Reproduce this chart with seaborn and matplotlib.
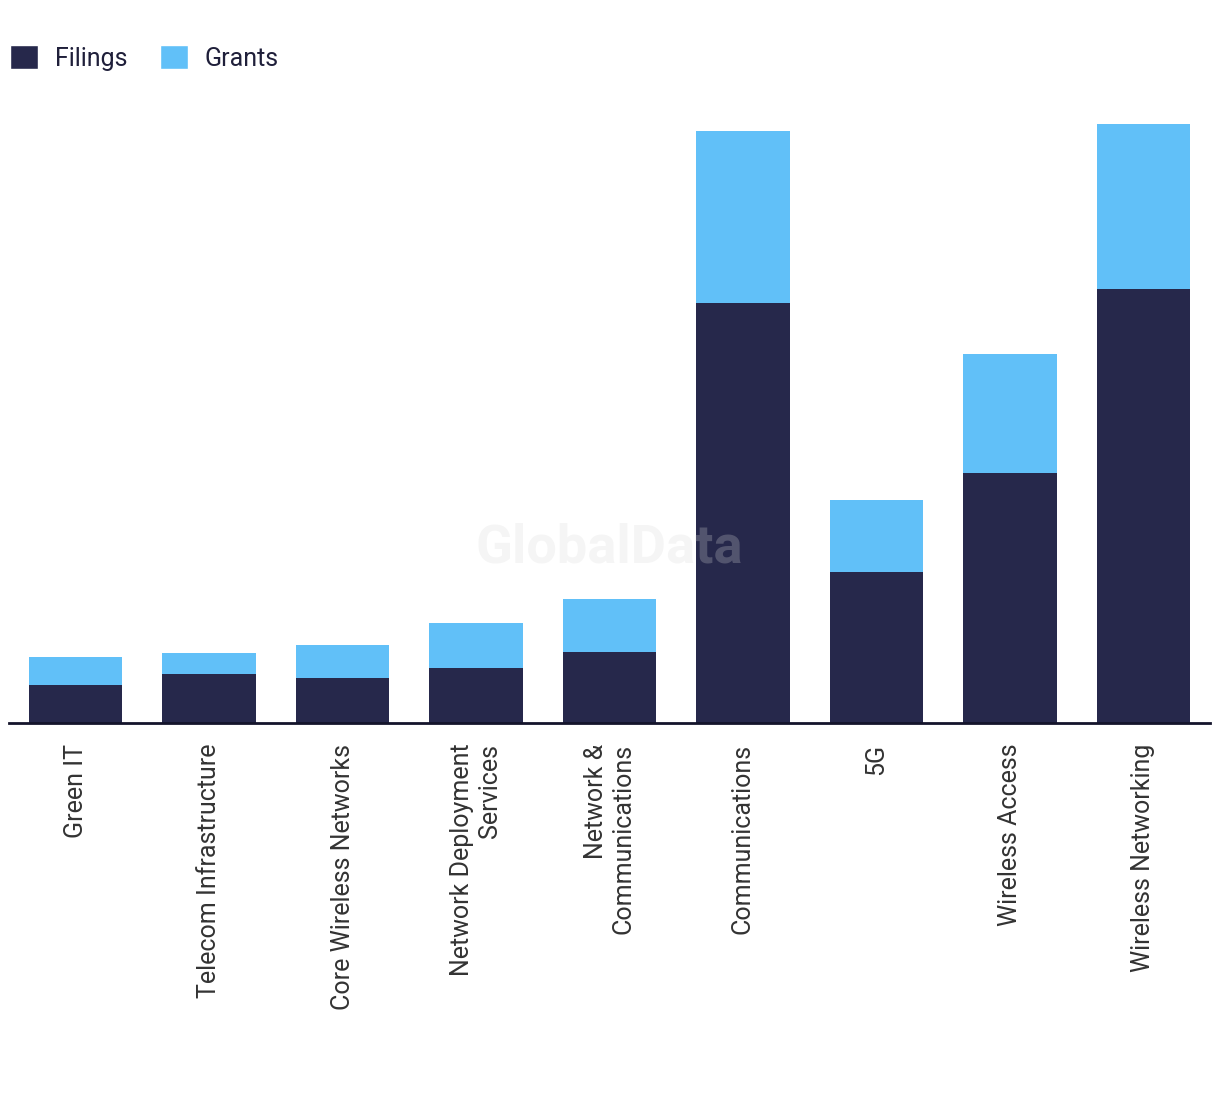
import pandas as pd
import matplotlib
matplotlib.use('Agg')
import matplotlib.pyplot as plt
import seaborn as sns
from matplotlib.patches import Patch

# data (arbitrary units)
categories = ['Green IT', 'Telecom Infrastructure', 'Core Wireless Networks',
              'Network Deployment\nServices', 'Network &\nCommunications',
              'Communications', '5G', 'Wireless Access', 'Wireless Networking']
filings = [38, 49, 45, 55, 71, 420, 151, 250, 434]
grants  = [28, 21, 33, 45, 53, 172, 72, 119, 165]

NAVY  = '#26284B'
LIGHT = '#61C0F8'

df = pd.DataFrame({'category': categories, 'filings': filings, 'grants': grants})
df['total'] = df['filings'] + df['grants']

sns.set_theme(style='white')
plt.rcParams['font.family'] = ['Roboto', 'DejaVu Sans']

fig = plt.figure(figsize=(12.2, 10.94), dpi=100)
ax = fig.add_axes([9 / 1220, 1 - 723 / 1094, 1201 / 1220, 623 / 1094])

# stacked: total first, filings drawn over it
sns.barplot(data=df, x='category', y='total', color=LIGHT, width=0.7,
            saturation=1, linewidth=0, ax=ax)
sns.barplot(data=df, x='category', y='filings', color=NAVY, width=0.7,
            saturation=1, linewidth=0, ax=ax)

ax.set_xlim(-0.5, len(categories) - 0.5)
ax.set_ylim(0, 623)
ax.set_xlabel('')
ax.set_ylabel('')
ax.set_yticks([])
for side in ['top', 'right', 'left']:
    ax.spines[side].set_visible(False)
ax.spines['bottom'].set_color('#14142B')
ax.spines['bottom'].set_linewidth(2)

ax.tick_params(axis='x', length=0, pad=15)
for lbl in ax.get_xticklabels():
    lbl.set_rotation(90)
    lbl.set_fontsize(18)
    lbl.set_color('#333333')
    lbl.set_ha('center')
    lbl.set_va('top')
    lbl.set_multialignment('right')

# watermark
ax.text(0.5, (723 - 548) / 623, 'GlobalData', transform=ax.transAxes,
        ha='center', va='center', fontsize=39, fontweight='bold',
        color='#d8d8d8', alpha=0.25, zorder=10)

handles = [Patch(facecolor=NAVY, label='Filings'),
           Patch(facecolor=LIGHT, label='Grants')]
fig.legend(handles=handles, loc='upper left',
           bbox_to_anchor=(10 / 1220, 1 - 45 / 1094),
           ncol=2, frameon=False, fontsize=18, handlelength=1.12,
           handleheight=1.12, handletextpad=0.68, columnspacing=1.28,
           borderpad=0, borderaxespad=0, labelcolor='#1f1f3a')

plt.savefig('out.png', dpi=100)
